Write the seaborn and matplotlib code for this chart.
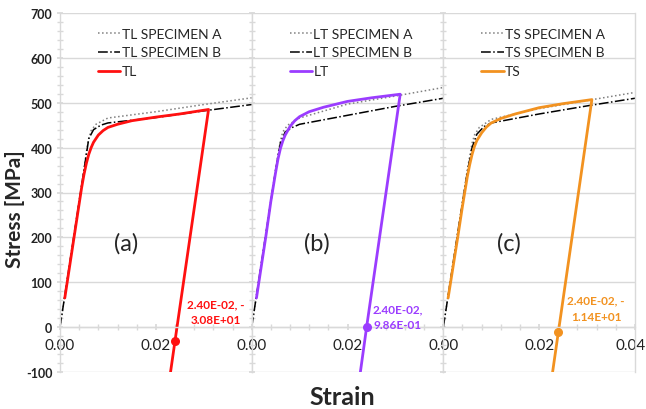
import matplotlib
matplotlib.use('Agg')
import numpy as np
import pandas as pd
import matplotlib.pyplot as plt
import seaborn as sns
from matplotlib.ticker import MultipleLocator
from matplotlib.transforms import ScaledTranslation

# ---- data ----
panels = ['TL', 'LT', 'TS']
colors = ['#FF1010', '#9B3CFF', '#F29220']
tags = ['(a)', '(b)', '(c)']

# specimen A (dotted)
spec_a_strain = [0, 0.001, 0.003, 0.005, 0.0055, 0.006, 0.0065, 0.0075, 0.01, 0.02, 0.03, 0.04]
tl_a_stress = [0, 70, 210, 350, 390, 420, 438, 452, 466, 480, 496, 511]
lt_a_stress = [0, 70, 210, 350, 385, 415, 435, 450, 466, 497, 515, 534]
ts_a_stress = [0, 70, 210, 350, 380, 410, 428, 445, 463, 487, 505, 523]

# specimen B (dash-dot)
spec_b_strain = [0, 0.001, 0.003, 0.005, 0.006, 0.007, 0.0085, 0.01, 0.02, 0.03, 0.04]
tl_b_stress = [0, 70, 210, 350, 420, 440, 450, 455, 467, 482, 496]
lt_b_stress = [0, 70, 210, 350, 410, 435, 445, 452, 472, 492, 510]
ts_b_stress = [0, 70, 210, 345, 400, 430, 447, 455, 475, 493, 510]

# model curves (loading + unloading)
tl_strain = [0.001, 0.003, 0.0045, 0.005, 0.0055, 0.006, 0.0065, 0.007, 0.008, 0.009, 0.01, 0.012,
             0.015, 0.02, 0.025, 0.031, 0.024, 0.0224]
tl_stress = [65, 205, 310, 340, 365, 385, 400, 412, 428, 438, 445, 452, 460, 468, 475, 485, -30.8, -150]
lt_strain = [0.001, 0.003, 0.004, 0.005, 0.0055, 0.006, 0.0065, 0.007, 0.008, 0.009, 0.01, 0.012,
             0.015, 0.02, 0.025, 0.031, 0.024, 0.0223]
lt_stress = [65, 205, 280, 345, 375, 398, 415, 428, 447, 460, 469, 480, 490, 503, 511, 519, 0.986, -130]
ts_strain = [0.001, 0.003, 0.004, 0.005, 0.0055, 0.006, 0.0065, 0.007, 0.008, 0.009, 0.01, 0.012,
             0.015, 0.02, 0.025, 0.031, 0.024, 0.0224]
ts_stress = [65, 200, 270, 335, 362, 385, 403, 416, 433, 446, 455, 465, 475, 489, 498, 507, -11.4, -130]

# marked point on unloading branch and its label
mark_strain = [0.024, 0.024, 0.024]
mark_stress = [-30.8, 0.986, -11.4]
mark_labels = ['2.40E-02, -\n3.08E+01', '2.40E-02,\n9.86E-01', '2.40E-02, -\n1.14E+01']
label_x = [0.0326, 0.0305, 0.0319]
label_y = [34, 24, 42]

a_stress = [tl_a_stress, lt_a_stress, ts_a_stress]
b_stress = [tl_b_stress, lt_b_stress, ts_b_stress]
m_strain = [tl_strain, lt_strain, ts_strain]
m_stress = [tl_stress, lt_stress, ts_stress]

sns.set_theme(style='white')
plt.rcParams['font.family'] = ['Lato', 'DejaVu Sans']

fig = plt.figure(figsize=(6.46, 4.10), dpi=100)
left, bottom, width, height = 60 / 646, 1 - 373 / 410, 575 / 3 / 646, 359 / 410
grid_c = '#D9D9D9'

for i, name in enumerate(panels):
    ax = fig.add_axes([left + i * width, bottom, width, height])
    sns.lineplot(x=spec_a_strain, y=a_stress[i], ax=ax, sort=False, estimator=None,
                 color='#7F7F7F', linestyle=':', linewidth=1.1, label=name + ' SPECIMEN A')
    sns.lineplot(x=spec_b_strain, y=b_stress[i], ax=ax, sort=False, estimator=None,
                 color='black', linestyle='-.', linewidth=1.1, label=name + ' SPECIMEN B')
    sns.lineplot(x=m_strain[i], y=m_stress[i], ax=ax, sort=False, estimator=None,
                 color=colors[i], linewidth=2, label=name)
    ax.scatter([mark_strain[i]], [mark_stress[i]], s=30, color=colors[i], zorder=5)
    ax.text(label_x[i], label_y[i], mark_labels[i], color=colors[i],
            fontsize=8.5, fontweight='bold', ha='center', va='center', linespacing=1.55)
    ax.text(0.0137, 188, tags[i], fontsize=17, ha='center', va='center')

    ax.set_xlim(0, 0.04)
    ax.set_ylim(-100, 700)
    ax.yaxis.set_major_locator(MultipleLocator(100))
    ax.yaxis.set_minor_locator(MultipleLocator(20))
    ax.xaxis.set_minor_locator(MultipleLocator(0.004))
    if i < 2:
        ax.set_xticks([0, 0.02])
    else:
        ax.set_xticks([0, 0.02, 0.04])
    ax.set_xticklabels(['%.2f' % t for t in ax.get_xticks()], fontweight='bold', fontsize=9)
    ax.grid(axis='y', color=grid_c, linewidth=1)
    ax.spines['bottom'].set_position(('data', 0))
    ax.spines['top'].set_visible(False)
    for s in ['bottom', 'left', 'right']:
        ax.spines[s].set_color(grid_c)
        ax.spines[s].set_linewidth(1)
    ax.tick_params(axis='x', which='both', direction='inout', colors=grid_c, labelcolor='#222222',
                   length=4, bottom=True, pad=6)
    ax.tick_params(axis='y', which='both', direction='inout', colors=grid_c, labelcolor='#222222',
                   length=4, left=True)
    if i == 0:
        ax.set_yticks(range(-100, 701, 100))
        ax.set_yticklabels([str(v) for v in range(-100, 701, 100)], fontweight='bold', fontsize=9)
    else:
        ax.tick_params(axis='y', labelleft=False)
    if i == 2:
        lab = ax.get_xticklabels()[-1]
        lab.set_transform(lab.get_transform() + ScaledTranslation(-3 / 72, 0, fig.dpi_scale_trans))
    ax.set_xlabel('')
    ax.set_ylabel('')
    ax.legend(loc='upper left', bbox_to_anchor=(0.17, 0.975), frameon=False, fontsize=10,
              handlelength=1.6, handletextpad=0.1, labelspacing=0.5, borderaxespad=0)

fig.text(0.023, 0.49, 'Stress [MPa]', rotation=90, fontsize=15, fontweight='bold', ha='center', va='center')
fig.text(0.53, 0.03, 'Strain', fontsize=18, fontweight='bold', ha='center', va='center')

fig.savefig('out.png', dpi=100)
